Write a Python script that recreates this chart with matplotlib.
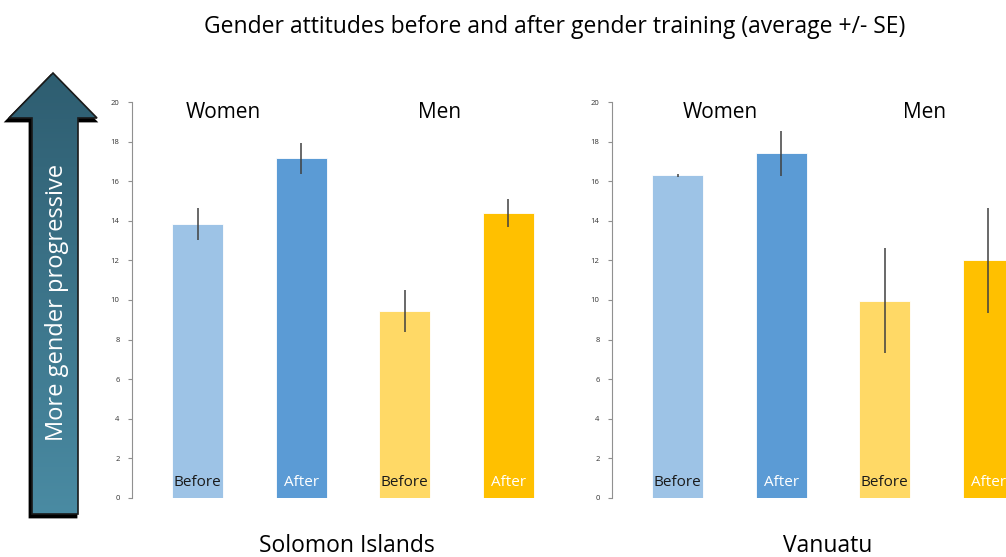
import numpy as np
import matplotlib.pyplot as plt
from matplotlib.patches import Polygon
from matplotlib.colors import LinearSegmentedColormap

plt.rcParams['font.family'] = ['Open Sans', 'DejaVu Sans']

# Datos (promedio +/- SE)
grupos = ['Women', 'Men']
etiquetas = ['Before', 'After', 'Before', 'After']
paises = ['Solomon Islands', 'Vanuatu']
solomon_media = [13.85, 17.15, 9.45, 14.4]
solomon_se = [0.8, 0.78, 1.05, 0.7]
vanuatu_media = [16.3, 17.4, 9.97, 12.0]
vanuatu_se = [0.08, 1.15, 2.65, 2.65]
colores = ['#9DC3E6', '#5B9BD5', '#FFD966', '#FFC000']
color_texto = ['#1a1a1a', 'white', '#1a1a1a', 'white']

W, H = 1006, 557
fig = plt.figure(figsize=(W / 100, H / 100), dpi=100)

def panel(x0, medias, ses, pais, pos_grupos, x_pais):
    ax = fig.add_axes([x0 / W, (H - 498) / H, 480 / W, 396 / H])
    x = np.arange(len(medias))
    ax.bar(x, medias, width=0.49, color=colores, edgecolor='white', linewidth=0.6)
    ax.errorbar(x, medias, yerr=ses, fmt='none', ecolor='#404040', elinewidth=1.1, capsize=0)
    for xi, lab, c in zip(x, etiquetas, color_texto):
        ax.text(xi, 0.8, lab, ha='center', va='center', fontsize=11, color=c)
    ax.set_xlim(-0.633, 4.0)
    ax.set_ylim(0, 20)
    ax.set_yticks(range(0, 21, 2))
    ax.tick_params(axis='y', labelsize=5.5, length=3, color='#909090', labelcolor='#333333', pad=6)
    ax.set_xticks([])
    for s in ['top', 'right', 'bottom']:
        ax.spines[s].set_visible(False)
    ax.spines['left'].set_color('#909090')
    ax.spines['left'].set_linewidth(0.8)
    for g, px in zip(grupos, pos_grupos):
        ax.text(px, 19.45, g, ha='center', va='center', fontsize=15)
    fig.text(x_pais / W, 1 - 546 / H, pais, ha='center', va='center', fontsize=16.5)

panel(132, solomon_media, solomon_se, paises[0], [0.25, 2.34], 347)
panel(612, vanuatu_media, vanuatu_se, paises[1], [0.41, 2.38], 828)

fig.text(555 / W, 1 - 27 / H,
         'Gender attitudes before and after gender training (average +/- SE)',
         ha='center', va='center', fontsize=16.5)

# Flecha decorativa con degradado
axf = fig.add_axes([0, 0, 1, 1], zorder=-1)
flecha = [(53, 73), (97, 118), (78, 118), (78, 514), (32, 514), (32, 118), (9, 118)]
sombra = Polygon([(px - 2, py + 3) for px, py in flecha], closed=True,
                 facecolor='black', edgecolor='black', linewidth=2, zorder=1)
axf.add_patch(sombra)
grad = np.linspace(0, 1, 256).reshape(-1, 1)
cmap = LinearSegmentedColormap.from_list('teal', ['#2E5D70', '#4A8BA3'])
im = axf.imshow(grad, cmap=cmap, extent=(5, 100, 516, 70), aspect='auto', zorder=2)
poly = Polygon(flecha, closed=True, facecolor='none', edgecolor='#1a1a1a', linewidth=1.2, zorder=3)
axf.add_patch(poly)
im.set_clip_path(poly)
axf.text(57, 302, 'More gender progressive', rotation=90, ha='center', va='center',
         fontsize=17, color='white', zorder=4)
axf.set_xlim(0, W)
axf.set_ylim(H, 0)
axf.axis('off')

fig.savefig('out.png', dpi=100)
